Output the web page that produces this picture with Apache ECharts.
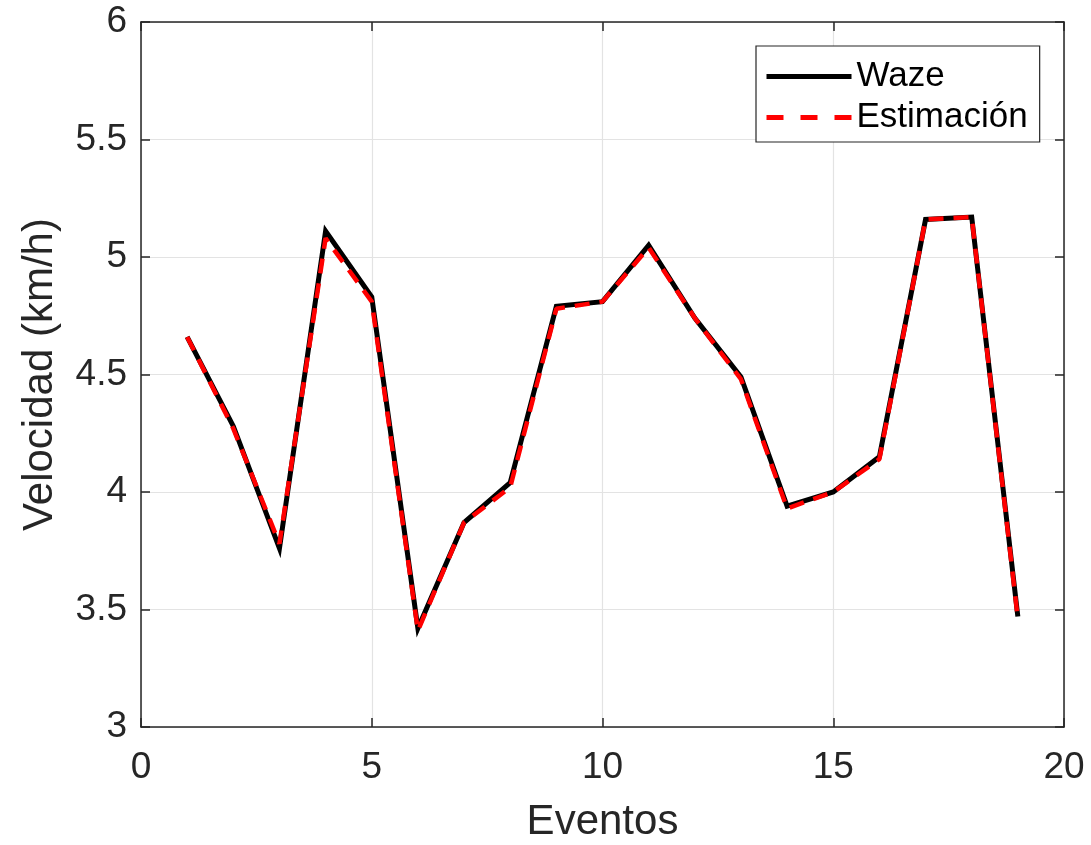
<!DOCTYPE html>
<html>
<head>
<meta charset="utf-8">
<script src="https://cdn.jsdelivr.net/npm/echarts@6/dist/echarts.min.js"></script>
<style>html,body{margin:0;padding:0;background:#fff;}#c{width:1091px;height:845px;}</style>
</head>
<body>
<div id="c"></div>
<script>
const eventos = [1,2,3,4,5,6,7,8,9,10,11,12,13,14,15,16,17,18,19];
const waze = [4.66, 4.28, 3.76, 5.11, 4.83, 3.42, 3.87, 4.04, 4.79, 4.81, 5.05, 4.74, 4.49, 3.94, 4.00, 4.15, 5.16, 5.17, 3.47];
const estimacion = [4.66, 4.27, 3.78, 5.08, 4.81, 3.41, 3.87, 4.02, 4.78, 4.81, 5.04, 4.74, 4.48, 3.93, 4.00, 4.14, 5.16, 5.17, 3.46];
const seriesNames = ['Waze', 'Estimación'];
const xTitle = 'Eventos';
const yTitle = 'Velocidad (km/h)';

const FONT = '"Liberation Sans", Arial, sans-serif';
const AX = '#262626';
const chart = echarts.init(document.getElementById('c'));
const pair = (xs, ys) => xs.map((x, i) => [x, ys[i]]);
const tickCommon = {show: true, inside: true, length: 9, lineStyle: {color: AX, width: 1.5}};
chart.setOption({
  animation: false,
  backgroundColor: '#fff',
  grid: {left: 141, right: 27, top: 22, bottom: 118, containLabel: false, outerBoundsMode: 'none'},
  legend: {
    orient: 'vertical',
    left: 756, top: 46,
    width: 286,
    padding: [13, 12, 7, 8],
    itemWidth: 85, itemHeight: 36, itemGap: 6,
    borderColor: AX, borderWidth: 1.2,
    backgroundColor: '#fff',
    itemStyle: {opacity: 0},
    textStyle: {fontFamily: FONT, fontSize: 35, color: '#000', padding: [0, 0, 0, 0]},
    data: [
      {name: seriesNames[0], lineStyle: {color: '#000', width: 5, type: 'solid'}},
      {name: seriesNames[1], lineStyle: {color: '#ff0000', width: 5, type: [17, 17]}}
    ]
  },
  xAxis: [{
    type: 'value', min: 0, max: 20, interval: 5,
    name: xTitle, nameLocation: 'middle', nameGap: 74,
    nameTextStyle: {fontFamily: FONT, fontSize: 42, color: AX},
    axisLine: {show: true, onZero: false, lineStyle: {color: AX, width: 1.5}},
    axisTick: tickCommon,
    axisLabel: {fontFamily: FONT, fontSize: 37, color: AX, margin: 22},
    splitLine: {show: true, lineStyle: {color: '#e3e3e3', width: 1.2}}
  }, {
    type: 'value', min: 0, max: 20, interval: 5, position: 'top',
    axisLine: {show: true, onZero: false, lineStyle: {color: AX, width: 1.5}},
    axisTick: tickCommon, axisLabel: {show: false}, splitLine: {show: false}
  }],
  yAxis: [{
    type: 'value', min: 3, max: 6, interval: 0.5,
    name: yTitle, nameLocation: 'middle', nameGap: 80,
    nameTextStyle: {fontFamily: FONT, fontSize: 42, color: AX},
    axisLine: {show: true, onZero: false, lineStyle: {color: AX, width: 1.5}},
    axisTick: tickCommon,
    axisLabel: {fontFamily: FONT, fontSize: 37, color: AX, margin: 14},
    splitLine: {show: true, lineStyle: {color: '#e3e3e3', width: 1.2}}
  }, {
    type: 'value', min: 3, max: 6, interval: 0.5, position: 'right',
    axisLine: {show: true, onZero: false, lineStyle: {color: AX, width: 1.5}},
    axisTick: tickCommon, axisLabel: {show: false}, splitLine: {show: false}
  }],
  series: [{
    name: seriesNames[0], type: 'line', data: pair(eventos, waze),
    symbol: 'none', showSymbol: false,
    lineStyle: {color: '#000', width: 5, join: 'miter'},
    itemStyle: {color: '#000'}, z: 2
  }, {
    name: seriesNames[1], type: 'line', data: pair(eventos, estimacion),
    symbol: 'none', showSymbol: false,
    lineStyle: {color: '#ff0000', width: 4.5, type: [15, 10]},
    itemStyle: {color: '#ff0000'}, z: 3
  }]
});
</script>
</body>
</html>
